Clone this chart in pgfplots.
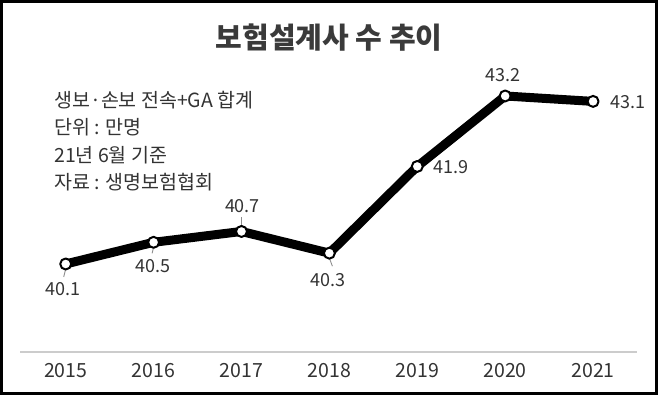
\documentclass[border=0pt]{standalone}
\usepackage{pgfplots}
\pgfplotsset{compat=1.18}
\usepackage{pgfplotstable}
\usepackage{fontspec}
\setmainfont{Noto Sans CJK KR}
\definecolor{txt}{HTML}{333333}
\definecolor{ttl}{HTML}{3A3A3A}
\pgfplotstableread{
x y dx dy lab
2015 40.1 -3 -25 40.1
2016 40.5 -1 -24 40.5
2017 40.7 1 25 40.7
2018 40.3 -1 -27 40.3
2019 41.9 34 -1 41.9
2020 43.2 -2 21 43.2
2021 43.1 35 -1 43.1
}\datatable
\begin{document}
\begin{tikzpicture}
\useasboundingbox (0pt,0pt) rectangle (658pt,395pt);
\node[font=\fontsize{29}{29}\selectfont\bfseries, text=ttl] at (329pt,357pt) {보험설계사 수 추이};
\begin{scope}[font=\fontsize{19.5}{19.5}\selectfont, text=txt]
\node[anchor=west, inner sep=0pt] at (54pt,295pt) {생보·손보 전속+GA 합계};
\node[anchor=west, inner sep=0pt] at (54pt,268pt) {단위 : 만명};
\node[anchor=west, inner sep=0pt] at (54pt,240pt) {21년 6월 기준};
\node[anchor=west, inner sep=0pt] at (54pt,213pt) {자료 : 생명보험협회};
\end{scope}
\begin{axis}[at={(20pt,43pt)}, anchor=south west, scale only axis,
  width=617pt, height=292pt,
  xmin=2014.48, xmax=2021.5, ymin=38.476, ymax=43.864,
  axis x line*=bottom, axis y line=none,
  x axis line style={draw=black!20, line width=1.2pt, -},
  xtick={2015,2016,2017,2018,2019,2020,2021},
  xticklabels={2015,2016,2017,2018,2019,2020,2021},
  major tick length=0pt,
  xticklabel style={font=\fontsize{19.5}{19.5}\selectfont, text=txt, yshift=-8pt},
  clip=false,
  nodes near coords style={font=\fontsize{18}{18}\selectfont, text=txt, anchor=center, xshift=\dx pt, yshift=\dy pt},
]
\draw[black!45, line width=0.9pt] (axis cs:2015,40.1) ++(0pt,-5pt) -- ++(-2pt,-8pt);
\draw[black!45, line width=0.9pt] (axis cs:2016,40.5) ++(0pt,-5pt) -- ++(-1.5pt,-6pt);
\draw[black!45, line width=0.9pt] (axis cs:2017,40.7) ++(0pt,5pt) -- ++(0pt,9pt);
\draw[black!45, line width=0.9pt] (axis cs:2018,40.3) ++(0pt,-5pt) -- ++(3pt,-8pt);
\addplot[black, line width=9pt, line join=round,
  mark=*, mark size=5.5pt, mark options={fill=white, draw=black, line width=2pt},
  visualization depends on={\thisrow{dx} \as \dx},
  visualization depends on={\thisrow{dy} \as \dy},
  nodes near coords, point meta=explicit symbolic]
  table[x=x, y=y, meta=lab] {\datatable};
\end{axis}
\draw[black, line width=3pt] (1.5pt,1.5pt) rectangle (656.5pt,393.5pt);
\end{tikzpicture}
\end{document}
